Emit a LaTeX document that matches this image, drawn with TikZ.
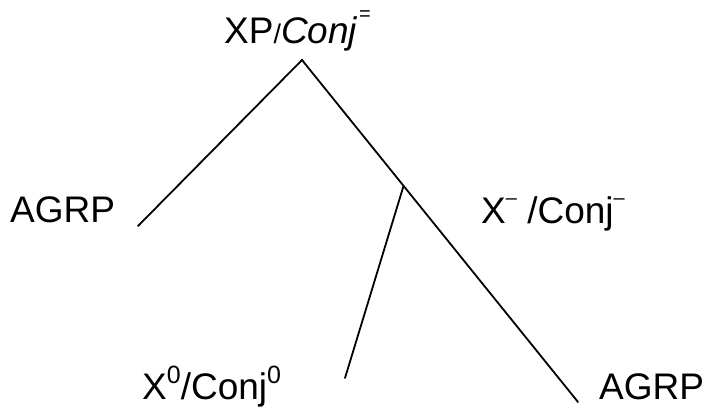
\documentclass[tikz,border=0pt]{standalone}
\usepackage{fontspec}
\setmainfont{Liberation Sans}
\usetikzlibrary{calc}
\newcommand{\supr}[2][0.42em]{\raisebox{#1}{\fontsize{25}{25}\selectfont #2}}
\begin{document}
\begin{tikzpicture}[x=1pt,y=-1pt,
  lbl/.style={inner sep=0pt,anchor=base west,font=\fontsize{37}{42}\selectfont},
  branch/.style={line width=1.8pt,line cap=round}]
\useasboundingbox (0,0) rectangle (705,407);
\coordinate (apex) at (302,60);
\coordinate (lend) at (138,226);
\coordinate (rend) at (578,402);
\coordinate (mid) at ($(apex)!0.368!(rend)$);
\coordinate (mend) at (345,378);
\draw[branch] (lend) -- (apex) -- (rend);
\draw[branch] (mid) -- (mend);
\node[lbl] (top) at (224,43) {XP{\fontsize{27}{27}\selectfont /}\textit{Conj}\kern1pt\supr[0.6em]{\fontsize{20}{20}\selectfont =}};
\node[lbl] (agl) at (10,222) {AGRP};
\node[lbl] (xbar) at (481,223) {X\supr[0.5em]{\fontsize{20}{20}\selectfont –} /Conj\supr[0.5em]{\fontsize{20}{20}\selectfont –}};
\node[lbl] (xzero) at (142,399) {X\supr{0}/Conj\supr{0}};
\node[lbl] (agr) at (599,399) {AGRP};
\end{tikzpicture}
\end{document}
